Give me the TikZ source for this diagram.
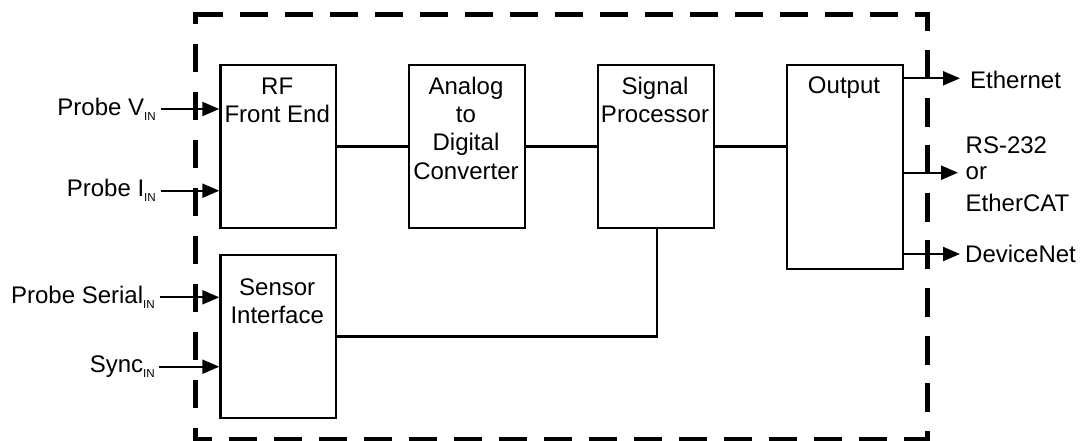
\documentclass[tikz,border=0pt]{standalone}
\usepackage{fontspec}
\setmainfont{Liberation Sans}
\usetikzlibrary{arrows.meta}
\newcommand\insub[1]{\raisebox{-5pt}{\fontsize{11.6}{12}\selectfont #1}}
\begin{document}
\begin{tikzpicture}[x=1pt,y=-1pt,
  blk/.style={draw,line width=2.2pt,inner sep=0pt,anchor=north west,minimum width=115.7pt},
  wire/.style={line width=2.2pt},
  sig/.style={line width=2.2pt,-{Triangle[length=17pt,width=14pt]}},
  frame/.style={line width=5pt,line cap=rect},
  lbl/.style={font=\fontsize{24}{28.3}\selectfont,inner sep=0pt},
]
\useasboundingbox (0,0) rectangle (1083,440);
% dashed enclosure
\draw[frame,dash pattern=on 23pt off 22pt,dash phase=42.5pt] (195,14.5) -- (927.5,14.5);
\draw[frame,dash pattern=on 23pt off 22pt,dash phase=8.5pt] (195,439) -- (927.5,439);
\draw[frame,dash pattern=on 23.5pt off 24.5pt,dash phase=16.5pt] (195,14.5) -- (195,439);
\draw[frame,dash pattern=on 24pt off 23.6pt,dash phase=9.6pt] (927.5,14.5) -- (927.5,439);
% blocks
\node[blk,minimum height=162.7pt] (rf) at (219.3,64) {};
\node[blk,minimum height=162.7pt] (adc) at (408.2,64) {};
\node[blk,minimum height=162.7pt] (sp) at (597.2,64) {};
\node[blk,minimum height=203.7pt] (out) at (786.2,64) {};
\node[blk,minimum height=162.7pt] (si) at (219.3,254) {};
% block texts (base = baseline of last line)
\node[lbl,anchor=base,align=center] (rft) at (277.2,122.9) {RF\\Front End};
\node[lbl,anchor=base,align=center] (adct) at (466,179.1) {Analog\\to\\Digital\\Converter};
\node[lbl,anchor=base,align=center] (spt) at (655,122.5) {Signal\\Processor};
\node[lbl,anchor=base,align=center] (outt) at (844,93.6) {Output};
\node[lbl,anchor=base,align=center] (sit) at (277.2,323.6) {Sensor\\Interface};
% internal wires
\draw[wire] (rf.east) -- (adc.west);
\draw[wire] (adc.east) -- (sp.west);
\draw[wire] (sp.east) -- (sp.east -| out.west);
\coordinate (spd) at (656.7,226.7);
\draw[wire] (spd) |- (si.east);
% inputs
\node[lbl,anchor=base east] (pvl) at (156,115) {Probe V\insub{IN}};
\node[lbl,anchor=base east] (pil) at (156,196.7) {Probe I\insub{IN}};
\node[lbl,anchor=base east] (psl) at (155,303.3) {Probe Serial\insub{IN}};
\node[lbl,anchor=base east] (syl) at (155,372.7) {Sync\insub{IN}};
\coordinate (pv) at (161,109);
\coordinate (pi) at (161,190.7);
\coordinate (ps) at (160,297.3);
\coordinate (sy) at (159,366.7);
\draw[sig] (pv) -- (pv -| rf.west);
\draw[sig] (pi) -- (pi -| rf.west);
\draw[sig] (ps) -- (ps -| si.west);
\draw[sig] (sy) -- (sy -| si.west);
% outputs
\coordinate (eth) at (960,78.3);
\coordinate (rs) at (958,172.7);
\coordinate (dn) at (960,254);
\draw[sig] (eth -| out.east) -- (eth);
\draw[sig] (rs -| out.east) -- (rs);
\draw[sig] (dn -| out.east) -- (dn);
\node[lbl,anchor=base west] (etht) at (970,88.3) {Ethernet};
\node[lbl,anchor=base west,align=left] (rst) at (965.5,211.7) {RS-232\\[-2.5pt]or\\[4.1pt]EtherCAT};
\node[lbl,anchor=base west] (dnt) at (965,262) {DeviceNet};
\end{tikzpicture}
\end{document}
